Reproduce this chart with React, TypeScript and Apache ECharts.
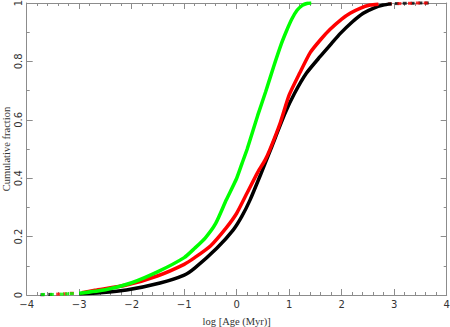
import React, { useEffect, useRef } from "react";
import * as echarts from "echarts";

// log age (Myr) and cumulative fraction
const blackAge = [-3.0, -2.6, -2.1, -1.46, -1.0, -0.8, -0.38, -0.065, 0.1, 0.253, 0.45, 0.65, 0.92, 1.1, 1.33, 1.587, 1.8, 1.97, 2.2, 2.41, 2.6, 2.79, 2.95];
const blackFrac = [0.004, 0.008, 0.017, 0.041, 0.068, 0.092, 0.16, 0.223, 0.27, 0.325, 0.41, 0.5, 0.622, 0.69, 0.76, 0.816, 0.86, 0.895, 0.935, 0.965, 0.982, 0.993, 0.997];
const blackTailAge = [-3.7, -3.55, 3.05, 3.2, 3.35, 3.5, 3.62];
const blackTailFrac = [0.001, 0.002, 0.998, 0.999, 0.999, 1.0, 1.0];

const redAge = [-2.95, -2.7, -2.1, -1.5, -1.0, -0.8, -0.5, -0.2, 0.0, 0.2, 0.4, 0.54, 0.63, 0.83, 1.0, 1.2, 1.4, 1.6, 1.78, 2.0, 2.16, 2.35, 2.54, 2.7];
const redFrac = [0.008, 0.016, 0.034, 0.066, 0.105, 0.128, 0.168, 0.23, 0.28, 0.35, 0.42, 0.462, 0.497, 0.59, 0.685, 0.76, 0.83, 0.875, 0.91, 0.945, 0.965, 0.982, 0.993, 0.996];
const redTailAge = [-3.4, -3.27, -3.14, 2.92, 3.1, 3.3, 3.45, 3.6];
const redTailFrac = [0.003, 0.004, 0.006, 0.997, 0.998, 0.999, 1.0, 1.0];

const greenAge = [-3.0, -2.5, -2.0, -1.5, -1.0, -0.8, -0.6, -0.4, -0.2, 0.0, 0.1, 0.2, 0.4, 0.55, 0.7, 0.85, 0.95, 1.05, 1.15, 1.25, 1.35, 1.42];
const greenFrac = [0.006, 0.018, 0.042, 0.08, 0.128, 0.16, 0.195, 0.245, 0.325, 0.4, 0.45, 0.5, 0.615, 0.695, 0.78, 0.86, 0.905, 0.945, 0.975, 0.992, 0.999, 1.0];
const greenTailAge = [-3.69, -3.52, -3.33, -3.23, -3.14];
const greenTailFrac = [0.002, 0.002, 0.003, 0.004, 0.005];

const xTicks = { min: -4, max: 4, interval: 1 };
const yTicks = { min: 0, max: 1, interval: 0.2 };

const zip = (a: number[], b: number[]) => a.map((v, i) => [v, b[i]]);

const AXIS = "#8c8c8c";
const TXT = "#333";

export default function App() {
  const ref = useRef<HTMLDivElement>(null);
  useEffect(() => {
    const chart = echarts.init(ref.current!, undefined, { renderer: "svg" });
    const fmtX = (v: number) => (v < 0 ? "\u2212" + Math.abs(v) : String(v));
    const baseX = {
      type: "value" as const,
      min: xTicks.min,
      max: xTicks.max,
      interval: xTicks.interval,
      axisLine: { show: true, onZero: false, lineStyle: { color: AXIS, width: 1 } },
      axisTick: { show: true, inside: true, length: 6, lineStyle: { color: AXIS } },
      minorTick: { show: true, splitNumber: 5, length: 3, lineStyle: { color: AXIS } },
      splitLine: { show: false },
    };
    const baseY = {
      type: "value" as const,
      min: yTicks.min,
      max: yTicks.max,
      interval: yTicks.interval,
      axisLine: { show: true, onZero: false, lineStyle: { color: AXIS, width: 1 } },
      axisTick: { show: true, inside: true, length: 6, lineStyle: { color: AXIS } },
      minorTick: { show: true, splitNumber: 2, length: 3, lineStyle: { color: AXIS } },
      splitLine: { show: false },
    };
    const lineSeries = (name: string, color: string, age: number[], frac: number[]) => ({
      name,
      type: "line" as const,
      data: zip(age, frac),
      showSymbol: false,
      symbol: "none",
      lineStyle: { color, width: 3.5 },
      smooth: 0.2,
    });
    const tailSeries = (name: string, color: string, age: number[], frac: number[]) => ({
      name: name + " tail",
      type: "scatter" as const,
      data: zip(age, frac),
      symbol: "rect",
      symbolSize: [4, 3],
      itemStyle: { color },
    });
    chart.setOption({
      animation: false,
      backgroundColor: "#fff",
      grid: { left: 26.7, right: 3.3, top: 3, bottom: 32, containLabel: false, outerBoundsMode: "none" },
      xAxis: [
        {
          ...baseX,
          position: "bottom",
          axisLabel: { color: TXT, fontFamily: "DejaVu Sans", fontSize: 10, margin: 4, formatter: fmtX },
          name: "log [Age (Myr)]",
          nameLocation: "middle",
          nameGap: 21,
          nameMoveOverlap: false,
          nameTextStyle: { color: TXT, fontFamily: "Liberation Serif", fontSize: 10.5 },
        },
        { ...baseX, position: "top", axisLabel: { show: false } },
      ],
      yAxis: [
        {
          ...baseY,
          position: "left",
          axisLabel: { color: TXT, fontFamily: "DejaVu Sans", fontSize: 10, margin: 3, rotate: 90 },
          name: "Cumulative fraction",
          nameLocation: "middle",
          nameGap: 15,
          nameMoveOverlap: false,
          nameTextStyle: { color: TXT, fontFamily: "Liberation Serif", fontSize: 10.5 },
        },
        { ...baseY, position: "right", axisLabel: { show: false } },
      ],
      series: [
        lineSeries("all", "#000000", blackAge, blackFrac),
        tailSeries("all", "#000000", blackTailAge, blackTailFrac),
        lineSeries("subset", "#ff0000", redAge, redFrac),
        tailSeries("subset", "#ff0000", redTailAge, redTailFrac),
        lineSeries("young", "#00ff00", greenAge, greenFrac),
        tailSeries("young", "#00ff00", greenTailAge, greenTailFrac),
      ],
    });
    return () => chart.dispose();
  }, []);
  return <div ref={ref} style={{ width: 450, height: 327, position: "fixed", left: 0, top: 0 }} />;
}
